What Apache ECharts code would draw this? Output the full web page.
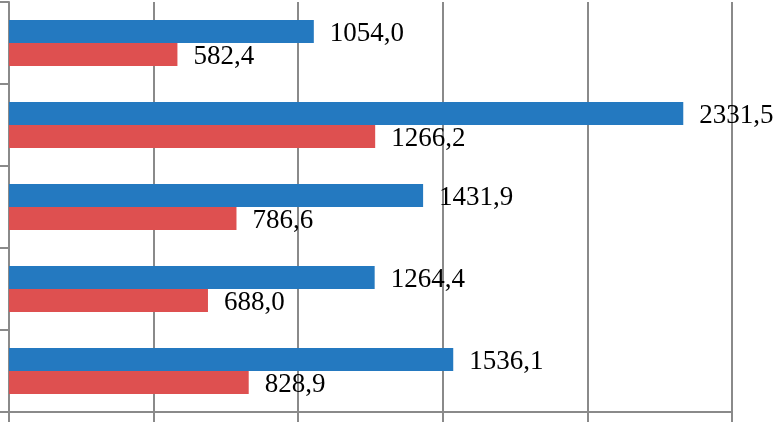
<!DOCTYPE html>
<html><head><meta charset="utf-8">
<script src="https://cdn.jsdelivr.net/npm/echarts@6/dist/echarts.min.js"></script>
<style>html,body{margin:0;padding:0;background:#fff}#c{width:775px;height:422px}</style>
</head><body><div id="c"></div>
<script>
var categories = ['A', 'B', 'C', 'D', 'E'];
var seriesBlue = [1054.0, 2331.5, 1431.9, 1264.4, 1536.1];
var seriesRed = [582.4, 1266.2, 786.6, 688.0, 828.9];
var xTicks = [0, 500, 1000, 1500, 2000, 2500];

var chart = echarts.init(document.getElementById('c'));
var fmt = function (p) { return p.value.toFixed(1).replace('.', ','); };
var lbl = { show: true, position: 'right', distance: 16, offset: [0, 2], formatter: fmt,
  fontFamily: 'Liberation Serif', fontSize: 27, color: '#000' };
chart.setOption({
  animation: false,
  grid: { left: 9, right: 43, top: 2, bottom: 10, containLabel: false },
  xAxis: {
    type: 'value', min: xTicks[0], max: xTicks[xTicks.length - 1], interval: 500,
    axisLabel: { show: false },
    axisLine: { show: true, lineStyle: { color: '#8a8a8a', width: 2 } },
    axisTick: { show: true, length: 10, lineStyle: { color: '#8a8a8a', width: 2 } },
    splitLine: { show: true, lineStyle: { color: '#8a8a8a', width: 2 } }
  },
  yAxis: {
    type: 'category', data: categories, inverse: true,
    axisLabel: { show: false },
    axisLine: { show: true, lineStyle: { color: '#8a8a8a', width: 2 } },
    axisTick: { show: true, length: 9, lineStyle: { color: '#8a8a8a', width: 2 } }
  },
  series: [
    { type: 'bar', data: seriesBlue, barGap: '0%', barCategoryGap: '44%',
      itemStyle: { color: '#2479C0' }, label: lbl },
    { type: 'bar', data: seriesRed, barGap: '0%', barCategoryGap: '44%',
      itemStyle: { color: '#DE5050' }, label: lbl }
  ]
});
</script></body></html>
